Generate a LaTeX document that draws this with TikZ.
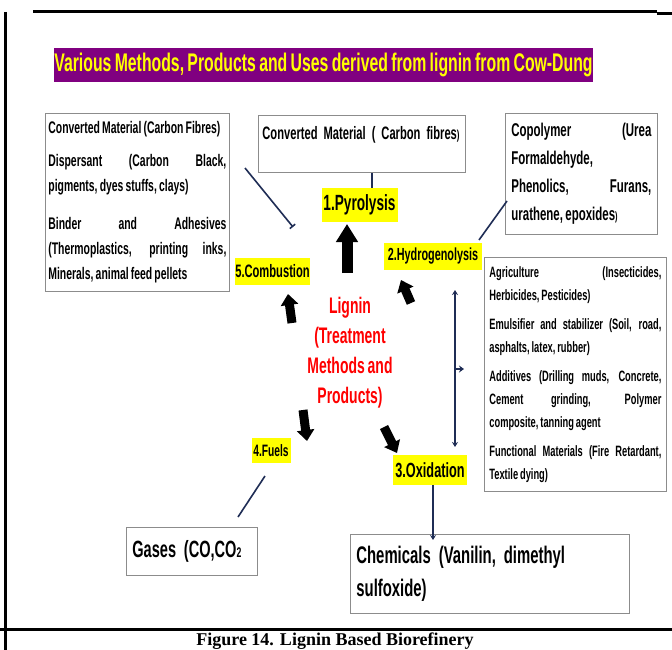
\documentclass[tikz,border=0pt]{standalone}
\usepackage{fontspec}
\setmainfont[FakeStretch=0.62, WordSpace=0.75]{Liberation Sans}
\newfontfamily\capfont{Liberation Serif}
\usepackage{tikz}
\usetikzlibrary{arrows.meta, positioning}

\definecolor{navyline}{RGB}{31,45,85}
\definecolor{titlepurple}{RGB}{128,0,128}
\definecolor{hlyellow}{RGB}{255,255,0}
\definecolor{boxline}{RGB}{140,140,140}
\definecolor{lignred}{RGB}{255,0,0}

\newcommand{\fsz}[2]{\fontsize{#1}{#2}\selectfont}
\newcommand{\jl}[2]{\makebox[#1][s]{#2}}

\begin{document}
\begin{tikzpicture}[x=1pt, y=-1pt,
    method/.style = {fill=hlyellow, inner sep=0pt},
    usebox/.style = {draw=boxline, line width=0.8pt, anchor=north west, align=left},
    link/.style = {draw=navyline, line width=1.6pt},
    blockarrow/.style = {line width=9pt, -{Triangle[length=11pt, width=17pt]}}]
\fill[white] (0,0) rectangle (672,650);
\useasboundingbox (0,0) rectangle (672,650);

% page frame
\draw[line width=3pt] (33,12) -- (657,12);
\draw[line width=3pt] (657,13.5) -- (672,13.5);
\draw[line width=3pt] (5,12) -- (5,650);
\draw[line width=3pt] (0,629) -- (672,629);

\node[fill=titlepurple, text=hlyellow, font=\bfseries\fsz{25.5}{28}, minimum width=533pt, minimum height=34pt, inner sep=0pt] (title) at (323.5,65) {Various Methods, Products and Uses derived from lignin from Cow-Dung};

% product boxes
\node[usebox, font=\bfseries\fsz{16.8}{25}, inner xsep=3pt, inner ysep=8pt] (leftuses) at (45,113) {%
  Converted Material (Carbon Fibres)\\[8pt]
  \jl{178pt}{Dispersant (Carbon Black,}\\
  pigments, dyes stuffs, clays)\\[13pt]
  \jl{178pt}{Binder and Adhesives}\\
  \jl{178pt}{(Thermoplastics, printing inks,}\\
  Minerals, animal feed pellets};
\node[usebox, font=\bfseries\fsz{18}{22}, text width=199pt, text height=20pt, text depth=29pt, inner xsep=4pt, inner ysep=4pt] (topconv) at (258,115) {\mbox{Converted Material (~Carbon fibres{\fsz{13}{13})}}};
\node[usebox, font=\bfseries\fsz{18.5}{28}, inner xsep=6pt, inner ysep=10pt] (copoly) at (505,113) {%
  \jl{140pt}{Copolymer (Urea}\\
  Formaldehyde,\\
  \jl{140pt}{Phenolics, Furans,}\\
  urathene, epoxides{\fsz{12}{12})}};
\node[usebox, font=\bfseries\fsz{15}{23}, inner xsep=5pt, inner ysep=9pt] (rightuses) at (484,257) {%
  \jl{172pt}{Agriculture (Insecticides,}\\
  Herbicides, Pesticides)\\[6pt]
  \jl{172pt}{Emulsifier and stabilizer (Soil, road,}\\
  asphalts, latex, rubber)\\[6pt]
  \jl{172pt}{Additives (Drilling muds, Concrete,}\\
  \jl{172pt}{Cement grinding, Polymer}\\
  composite, tanning agent\\[6pt]
  \jl{172pt}{Functional Materials (Fire Retardant,}\\
  Textile dying)};
\node[usebox, font=\bfseries\fsz{23.5}{28}, text width=119pt, minimum height=48pt, inner xsep=6pt] (gases) at (126,527) {\mbox{Gases (CO,CO{\fsz{14}{14}2}}};
\node[usebox, font=\bfseries\fsz{24}{33}, text width=267pt, minimum height=79pt, inner xsep=6pt] (chem) at (350,534) {\mbox{Chemicals (Vanilin, dimethyl}\\\mbox{sulfoxide)}};

% treatment methods
\node[text=lignred, font=\bfseries\fsz{22.5}{30}, align=center] (lignin) at (350,353) {Lignin\\(Treatment\\Methods and\\Products)};
\node[method, font=\bfseries\fsz{22}{24}, minimum width=76pt, minimum height=34pt] (pyro) at (359.5,205) {1.Pyrolysis};
\node[method, font=\bfseries\fsz{18}{20}, minimum width=72pt, minimum height=27pt] (combust) at (272.5,271.5) {5.Combustion};
\node[method, font=\bfseries\fsz{17.5}{20}, minimum width=98pt, minimum height=27pt] (hydro) at (433,256.5) {2.Hydrogenolysis};
\node[method, font=\bfseries\fsz{16.5}{20}, minimum width=39pt, minimum height=25pt] (fuels) at (271,450.5) {4.Fuels};
\node[method, font=\bfseries\fsz{20.5}{24}, minimum width=74pt, minimum height=30pt] (oxid) at (430,470) {3.Oxidation};

% block arrows out of lignin
\draw[line width=11pt, -{Triangle[length=18pt, width=21pt]}] (347,273) -- (347,224);
\draw[blockarrow] (292,323) -- (288,294);
\draw[blockarrow] (411,303) -- (401,280);
\draw[blockarrow] (303,410) -- (307,441);
\draw[blockarrow] (384,427) -- (397,453);

% connectors
\coordinate (px) at (372,0);
\coordinate (dispStart) at (245,168);
\coordinate (dispEnd) at (293,227);
\coordinate (hydroOut) at (479,240);
\coordinate (copolyIn) at (507,201);
\coordinate (usesTop) at (455,290);
\coordinate (usesBot) at (455,447);
\coordinate (usesMid) at (455,369);
\coordinate (usesTick) at (464,369);
\coordinate (fuelsOut) at (265,476);
\coordinate (gasesIn) at (238,517);
\coordinate (ox) at (433,0);
\draw[link] (topconv.south -| px) -- (pyro.north -| px);
\draw[link, -{Bar[width=7pt]}] (dispStart) -- (dispEnd);
\draw[link] (hydroOut) -- (copolyIn);
\draw[link, {Stealth[length=5pt,width=6pt]}-{Stealth[length=5pt,width=6pt]}] (usesTop) -- (usesBot);
\draw[link, -{Stealth[length=5pt,width=7pt]}] (usesMid) -- (usesTick);
\draw[link] (fuelsOut) -- (gasesIn);
\draw[link, -{Stealth[length=5pt,width=6pt]}] (oxid.south -| ox) -- ([yshift=-6pt]chem.north -| ox);

\node[font=\capfont\bfseries\fsz{18}{22}, anchor=base] (caption) at (335,645.5) {Figure 14. Lignin Based Biorefinery};
\end{tikzpicture}
\end{document}
